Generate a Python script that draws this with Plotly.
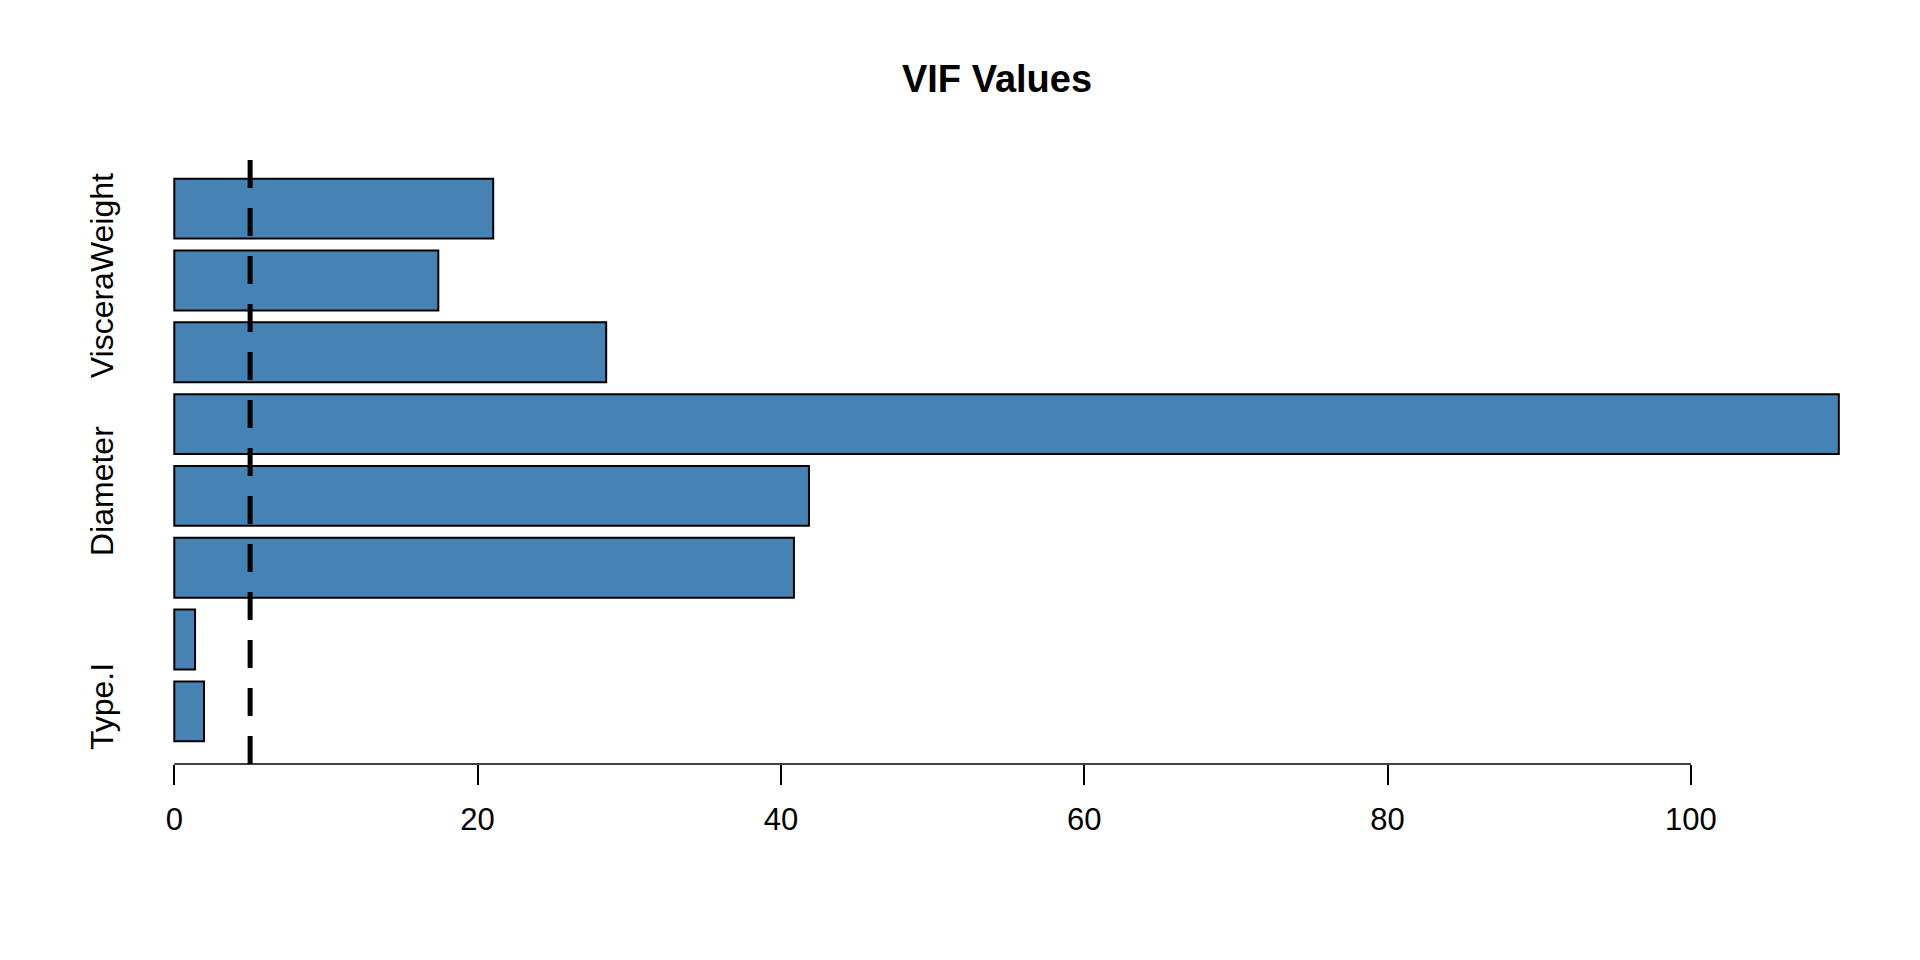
import plotly.graph_objects as go

# Data (bottom to top, as drawn)
variables = ["Type.I", "Type.M", "Length", "Diameter", "WholeWeight",
             "ShuckedWeight", "VisceraWeight", "ShellWeight"]
vif_values = [1.96, 1.37, 40.86, 41.85, 109.76, 28.48, 17.41, 21.03]
shown_labels = ["Type.I", "Diameter", "VisceraWeight"]
x_ticks = [0, 20, 40, 60, 80, 100]
threshold = 5
title_text = "VIF Values"

FONT = "Liberation Sans, Arial, sans-serif"

fig = go.Figure()
fig.add_trace(go.Bar(
    x=vif_values, y=variables, orientation="h",
    marker=dict(color="#4682B4", line=dict(color="black", width=2)),
    hoverinfo="x+y",
))

fig.add_shape(type="line", xref="x", yref="paper",
              x0=threshold, x1=threshold, y0=0, y1=1,
              line=dict(color="black", width=5, dash="28px,20px"))
# R-style axis line spanning first to last tick
fig.add_shape(type="line", xref="x", yref="paper",
              x0=x_ticks[0], x1=x_ticks[-1], y0=0, y1=0,
              line=dict(color="black", width=1.5))

fig.update_layout(
    width=1920, height=960,
    paper_bgcolor="white", plot_bgcolor="white",
    margin=dict(l=116, r=22, t=148, b=204),
    bargap=1/6,
    showlegend=False,
    title=dict(text="<b>" + title_text + "</b>", x=989/1920, xref="container",
               xanchor="center", y=1 - 71/960, yref="container", yanchor="middle",
               font=dict(family=FONT, size=38, color="black")),
    xaxis=dict(range=[-3.316, 114.19], showgrid=False, zeroline=False,
               showline=False, tickvals=x_ticks, ticks="outside", ticklen=19.5,
               tickwidth=1.5, tickcolor="black", ticklabelstandoff=8,
               tickfont=dict(family=FONT, size=31, color="black")),
    yaxis=dict(type="category", categoryorder="array", categoryarray=variables,
               range=[-0.7333, 7.7333], showgrid=False, zeroline=False,
               showline=False, ticks="", tickvals=shown_labels, ticktext=shown_labels,
               tickangle=-90, ticklabelstandoff=4,
               tickfont=dict(family=FONT, size=32, color="black")),
)

fig.write_html("out.html")
